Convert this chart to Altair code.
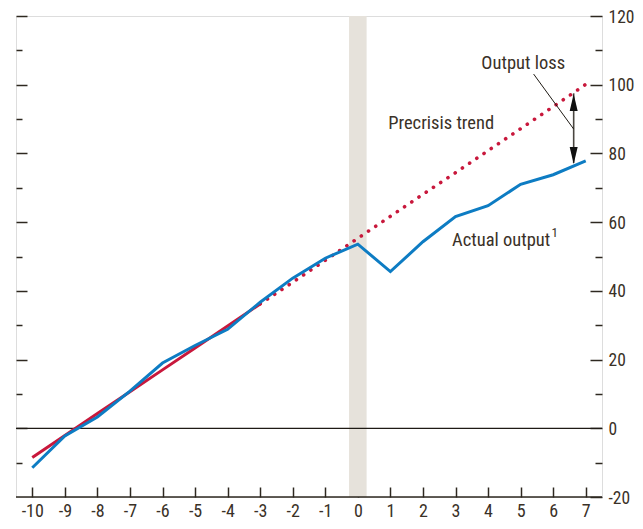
import altair as alt
import pandas as pd

# ---- data ----
years = list(range(-10, 8))
actual = [-11.5, -2.2, 3.3, 10.8, 19.0, 24.1, 28.8, 36.7, 43.7, 49.5,
          53.6, 45.6, 54.3, 61.6, 64.8, 71.0, 73.8, 77.8]
trend = [-8.5, -2.1, 4.3, 10.6, 17.0, 23.4, 29.8, 36.2, 42.5, 48.9,
         55.3, 61.7, 68.1, 74.4, 80.8, 87.2, 93.6, 100.1]
solid_until = -3           # precrisis trend drawn solid up to here, dotted after

x_domain = [-10.5, 7.5]
y_domain = [-20, 120]
x_ticks = list(range(-10, 8))
y_major = [-20, 0, 20, 40, 60, 80, 100, 120]
y_minor = [-10, 10, 30, 50, 70, 90, 110]
y_left_major = [0, 20, 40, 60, 80, 100, 120]

crisis_band = [-0.27, 0.27]

# output-loss arrow and leader
arrow_x = [6.63]
arrow_y = [97.5, 77.2]
head_y = [94.8, 79.4]
leader_x = [5.40, 6.63]
leader_y = [103.1, 87.1]

labels_txt = ["Output loss", "Precrisis trend"]
labels_x = [5.08, 2.56]
labels_y = [104.5, 87.1]
actual_lbl = ["Actual output"]
actual_lbl_x = [5.91]
actual_lbl_y = [53.1]
sup_txt = ["1"]
sup_x = [5.95]
sup_y = [55.6]

# ---- styling ----
FONT = "Roboto Condensed, Liberation Sans Narrow, Arial Narrow, DejaVu Sans Condensed, sans-serif"
TXT = "#3a3127"
TICK = "#2e2820"
RED = "#c8183c"
BLUE = "#0d7cc3"
BAND = "#e6e2db"
W, H = 586, 481

xs = alt.Scale(domain=x_domain, nice=False, zero=False)
ys = alt.Scale(domain=y_domain, nice=False, zero=False)


def yaxis(orient, values, size, labels, pad=6):
    return alt.Axis(orient=orient, values=values, tickSize=size, offset=-size,
                    labels=labels, domain=False, grid=False, title=None,
                    tickColor=TICK, tickWidth=1.5, labelFont=FONT,
                    labelFontSize=17.5, labelColor=TXT, labelPadding=pad,
                    labelFlush=False, labelOverlap=False, labelOffset=1,
                    labelExpr="'' + datum.value")


def xaxis():
    return alt.Axis(orient="bottom", values=x_ticks, title=None, grid=False,
                    domain=False, ticks=True, tickSize=10, offset=-10,
                    tickColor=TICK, tickWidth=1.5, labels=True,
                    labelFont=FONT, labelFontSize=18, labelColor=TXT,
                    labelPadding=5, labelFlush=False, labelOverlap=False,
                    labelExpr="'' + datum.value")


def X(field):
    return alt.X(field, type="quantitative", scale=xs, axis=xaxis())


main = pd.DataFrame({"year": years, "actual": actual, "trend": trend})
solid = main[main.year <= solid_until]
dotted = main[main.year >= solid_until]

base_df = pd.DataFrame({"x0": [x_domain[0]], "x1": [x_domain[1]], "y": [y_domain[0]]})
zero_df = pd.DataFrame({"x0": [x_domain[0]], "x1": [x_domain[1]], "y": [0]})

band = alt.Chart(pd.DataFrame({"x0": [crisis_band[0]], "x1": [crisis_band[1]],
                               "y0": [y_domain[0]], "y1": [y_domain[1]]})).mark_rect(
    color=BAND).encode(
    x=X("x0"), x2="x1",
    y=alt.Y("y0:Q", scale=ys, axis=yaxis("right", y_major, 12, True)), y2="y1")

zero_rule = alt.Chart(zero_df).mark_rule(color="#1e1a14", strokeWidth=1.3).encode(
    x=X("x0"), x2="x1",
    y=alt.Y("y:Q", scale=ys, axis=yaxis("right", y_minor, 7, False)))
base_rule = alt.Chart(base_df).mark_rule(color=TICK, strokeWidth=1.5).encode(
    x=X("x0"), x2="x1",
    y=alt.Y("y:Q", scale=ys, axis=yaxis("left", y_left_major, 11, False)))

red_solid = alt.Chart(solid).mark_line(color=RED, strokeWidth=3).encode(
    x=X("year"),
    y=alt.Y("trend:Q", scale=ys, axis=yaxis("left", y_minor, 6, False)))
red_dot = alt.Chart(dotted).mark_line(color=RED, strokeWidth=3.6, strokeCap="round",
                                      strokeDash=[0.1, 8.6]).encode(
    x=X("year"),
    y=alt.Y("trend:Q", scale=ys, axis=None))
blue = alt.Chart(main).mark_line(color=BLUE, strokeWidth=3).encode(
    x=X("year"),
    y=alt.Y("actual:Q", scale=ys, axis=None))

arrow_line = alt.Chart(pd.DataFrame({"x": arrow_x, "y0": [arrow_y[0]], "y1": [arrow_y[1]]})).mark_rule(
    color="#4a4640", strokeWidth=1.6).encode(
    x=X("x"),
    y=alt.Y("y0:Q", scale=ys, axis=None), y2="y1")
leader = alt.Chart(pd.DataFrame({"x": leader_x, "y": leader_y})).mark_line(
    color="#1e1a14", strokeWidth=1).encode(
    x=X("x"),
    y=alt.Y("y:Q", scale=ys, axis=None))
head_up = alt.Chart(pd.DataFrame({"x": arrow_x, "y": [head_y[0]]})).mark_point(
    shape="M0,-1L0.47,1L-0.47,1Z", filled=True, size=289, color="#111111", opacity=1).encode(
    x=X("x"),
    y=alt.Y("y:Q", scale=ys, axis=None))
head_down = alt.Chart(pd.DataFrame({"x": arrow_x, "y": [head_y[1]]})).mark_point(
    shape="M0,1L0.47,-1L-0.47,-1Z", filled=True, size=289, color="#111111", opacity=1).encode(
    x=X("x"),
    y=alt.Y("y:Q", scale=ys, axis=None))

txt = alt.Chart(pd.DataFrame({"t": labels_txt, "x": labels_x, "y": labels_y})).mark_text(
    font=FONT, fontSize=18.5, color=TXT, align="center", baseline="alphabetic").encode(
    x=X("x"),
    y=alt.Y("y:Q", scale=ys, axis=None), text="t:N")
txt_actual = alt.Chart(pd.DataFrame({"t": actual_lbl, "x": actual_lbl_x, "y": actual_lbl_y})).mark_text(
    font=FONT, fontSize=18.5, color=TXT, align="right", baseline="alphabetic").encode(
    x=X("x"),
    y=alt.Y("y:Q", scale=ys, axis=None), text="t:N")
txt_sup = alt.Chart(pd.DataFrame({"t": sup_txt, "x": sup_x, "y": sup_y})).mark_text(
    font=FONT, fontSize=13, color=TXT, align="left", baseline="alphabetic").encode(
    x=X("x"),
    y=alt.Y("y:Q", scale=ys, axis=None), text="t:N")

chart = alt.layer(
    band, zero_rule, base_rule, red_solid, red_dot, blue,
    arrow_line, leader, head_up, head_down, txt, txt_actual, txt_sup
).resolve_axis(y="independent").properties(
    width=W, height=H,
    autosize=alt.AutoSizeParams(type="none"),
    padding={"left": 8, "top": 8, "right": 33, "bottom": 24},
).configure_view(stroke=None).configure(background="white")

chart.save("out.html", embed_options={"renderer": "svg", "actions": False})
